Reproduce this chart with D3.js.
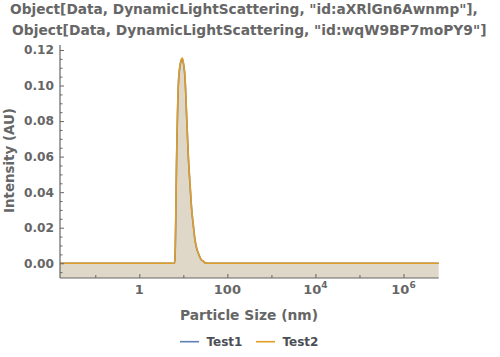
<!DOCTYPE html>
<html><head><meta charset="utf-8">
<script src="https://cdn.jsdelivr.net/npm/d3@7"></script>
<style>body{margin:0;background:#fff}svg{display:block}text{font-family:"DejaVu Sans",sans-serif;font-weight:bold}</style>
</head><body>
<svg id="c" width="500" height="357"></svg>
<script>
const titleLines = ['Object[Data, DynamicLightScattering, "id:aXRlGn6Awnmp"],', 'Object[Data, DynamicLightScattering, "id:wqW9BP7moPY9"]'];
const seriesNames = ["Test1", "Test2"];
const sizes = [0.0158, 6.3, 6.48, 7.08, 7.7, 8.41, 9.0, 9.49, 10.1, 10.9, 11.9, 13.0, 14.2, 15.5, 16.9, 18.4, 20.0, 21.9, 24.8, 28.5, 31.0, 34.0, 6.3e6];
const test1 = [0, 0, 0.004, 0.063, 0.100, 0.1110, 0.1142, 0.1150, 0.1120, 0.1045, 0.0822, 0.0598, 0.0440, 0.0300, 0.0210, 0.0131, 0.0086, 0.0056, 0.0025, 0.0010, 0.0003, 0, 0];
const test2 = [0, 0, 0.004, 0.064, 0.101, 0.1117, 0.1148, 0.1155, 0.1125, 0.1050, 0.0826, 0.0600, 0.0445, 0.0300, 0.0210, 0.0131, 0.0085, 0.0056, 0.0025, 0.0010, 0.0003, 0, 0];
const yTicks = [0, 0.02, 0.04, 0.06, 0.08, 0.10, 0.12];
const xMajor = [1, 100, 1e4, 1e6];
const xMinor = [0.1, 10, 1000, 1e5];
const colors = ["#5e81b5", "#e19c24"];

const svg = d3.select("#c");
const L = 60, R = 438.7, T = 45, B = 278;
const x = d3.scaleLog().domain([0.0158, 6.3e6]).range([L, R]);
const y = d3.scaleLinear().domain([-0.0083, 0.1228]).range([B, T]);
const grey = "#666666";

function fit(t, w) {
  const cur = +t.attr("font-size");
  const m = t.node().getComputedTextLength();
  if (m > 0) t.attr("font-size", (cur * w / m).toFixed(2));
  return t;
}

// title
const tl = [{x: 10, y: 14, w: 468}, {x: 12, y: 35, w: 475}];
titleLines.forEach((s, i) => {
  fit(svg.append("text").attr("x", tl[i].x).attr("y", tl[i].y)
    .attr("font-size", 14).attr("fill", grey).text(s), tl[i].w);
});

// fills
const series = [test1, test2];
const area = d3.area().x((d, i) => x(sizes[i])).y0(B).y1(d => y(d)).curve(d3.curveMonotoneX);
const line = d3.line().x((d, i) => x(sizes[i])).y(d => y(d)).curve(d3.curveMonotoneX);
series.forEach((s, k) => {
  svg.append("path").attr("d", area(s)).attr("fill", colors[k]).attr("fill-opacity", 0.2);
});
series.forEach((s, k) => {
  svg.append("path").attr("d", line(s)).attr("fill", "none").attr("stroke", colors[k]).attr("stroke-width", 1.6);
});

// axes
const yAxis = d3.axisLeft(y).tickValues(yTicks).tickFormat(d3.format(".2f")).tickSize(-4).tickPadding(6);
const gy = svg.append("g").attr("transform", `translate(${L},0)`).call(yAxis);
const yMinor = d3.range(-0.005, 0.1228, 0.005).filter(v => !yTicks.some(t => Math.abs(t - v) < 1e-6));
const gym = svg.append("g").attr("transform", `translate(${L},0)`).call(d3.axisLeft(y).tickValues(yMinor).tickFormat("").tickSize(-2.5));
gym.select(".domain").remove();
const xAxis = d3.axisBottom(x).tickValues(xMajor).tickFormat("").tickSize(-4);
const gx = svg.append("g").attr("transform", `translate(0,${B})`).call(xAxis);
const gxm = svg.append("g").attr("transform", `translate(0,${B})`).call(d3.axisBottom(x).tickValues(xMinor).tickFormat("").tickSize(-3));
gxm.select(".domain").remove();
[gy, gym, gx, gxm].forEach(g => {
  g.selectAll(".domain").attr("stroke", grey).attr("stroke-width", 1.2);
  g.selectAll("line").attr("stroke", grey);
});
gy.select(".domain").attr("d", `M0,${T}V${B}`);
gx.select(".domain").attr("d", `M${L},0H${R}`);
gy.selectAll("text").attr("font-size", 12.2).attr("fill", grey).attr("font-family", "DejaVu Sans").attr("font-weight", "bold");

// x labels with superscripts
xMajor.forEach(v => {
  const e = Math.round(Math.log10(v));
  const t = svg.append("text").attr("x", x(v)).attr("y", 294).attr("text-anchor", "middle")
    .attr("font-size", 13).attr("fill", grey);
  if (e < 4) t.text(String(v));
  else {
    t.append("tspan").text("10");
    t.append("tspan").attr("dy", -6).attr("font-size", 9).text(String(e));
  }
});

// axis titles
fit(svg.append("text").attr("transform", "translate(14,160.5) rotate(-90)").attr("text-anchor", "middle")
  .attr("font-size", 13).attr("fill", grey).text("Intensity (AU)"), 105);
fit(svg.append("text").attr("x", 249).attr("y", 320).attr("text-anchor", "middle")
  .attr("font-size", 14).attr("fill", grey).text("Particle Size (nm)"), 138);

// legend
const lx = [180, 256];
seriesNames.forEach((n, k) => {
  svg.append("line").attr("x1", lx[k]).attr("x2", lx[k] + 19).attr("y1", 341.7).attr("y2", 341.7)
    .attr("stroke", colors[k]).attr("stroke-width", 1.6);
  fit(svg.append("text").attr("x", lx[k] + 26.5).attr("y", 346).attr("font-size", 11.5).attr("fill", "#4a4f55").text(n), 36);
});
</script>
</body></html>
